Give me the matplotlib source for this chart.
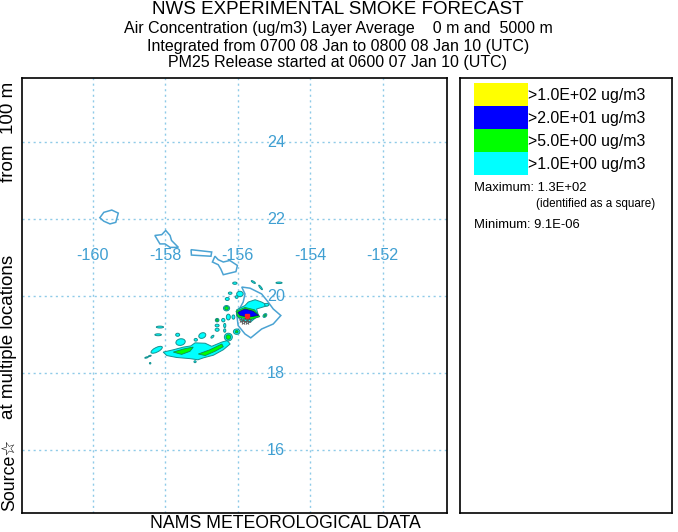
import matplotlib
matplotlib.use('Agg')
import matplotlib.pyplot as plt
from matplotlib.patches import Ellipse, Polygon, Rectangle

plt.rcParams['font.family'] = ['Liberation Sans', 'DejaVu Sans']

W, H = 678, 532

title_lines = ['NWS EXPERIMENTAL SMOKE FORECAST',
               'Air Concentration (ug/m3) Layer Average    0 m and  5000 m',
               'Integrated from 0700 08 Jan to 0800 08 Jan 10 (UTC)',
               'PM25 Release started at 0600 07 Jan 10 (UTC)']

lon_ticks = [-160, -158, -156, -154, -152]
lat_ticks = [16, 18, 20, 22, 24]

legend_colors = ['#ffff00', '#0000ff', '#00ff00', '#00ffff']
legend_labels = ['>1.0E+02 ug/m3', '>2.0E+01 ug/m3', '>5.0E+00 ug/m3', '>1.0E+00 ug/m3']

# island outlines, lon / lat
kauai = [(-159.81, 22.03), (-159.70, 22.17), (-159.48, 22.23), (-159.30, 22.15),
         (-159.37, 21.91), (-159.53, 21.87), (-159.70, 21.94)]
oahu = [(-158.29, 21.57), (-158.10, 21.59), (-157.99, 21.70), (-157.87, 21.57), (-157.83, 21.44),
        (-157.64, 21.26), (-157.87, 21.26), (-158.01, 21.35), (-158.15, 21.35)]
molokai = [(-157.29, 21.20), (-156.72, 21.14), (-156.74, 21.03), (-157.28, 21.06)]
maui = [(-156.63, 21.03), (-156.54, 20.94), (-156.40, 20.88), (-156.22, 20.92), (-156.01, 20.79),
        (-156.05, 20.63), (-156.40, 20.55), (-156.47, 20.70), (-156.54, 20.81), (-156.70, 20.88)]
big_island = [(-155.89, 20.23), (-155.66, 20.20), (-155.34, 20.05), (-155.16, 19.84), (-155.02, 19.66),
              (-154.81, 19.49), (-155.02, 19.27), (-155.34, 19.14), (-155.64, 18.91), (-155.80, 19.01),
              (-155.99, 19.23), (-156.03, 19.53), (-155.85, 19.84), (-155.80, 20.05)]
islands = [kauai, oahu, molokai, maui, big_island]

# plume, lon / lat polygons
plume_main = [(-158.06, 18.54), (-157.78, 18.60), (-157.50, 18.67), (-157.30, 18.70), (-157.18, 18.78),
              (-156.90, 18.77), (-156.72, 18.69), (-156.44, 18.80), (-156.29, 18.84), (-156.21, 18.75),
              (-156.40, 18.60), (-156.67, 18.46), (-156.95, 18.39), (-157.10, 18.34), (-157.32, 18.37),
              (-157.69, 18.40), (-157.96, 18.45)]
plume_core = [(-156.03, 19.64), (-155.80, 19.75), (-155.71, 19.84), (-155.52, 19.90), (-155.34, 19.84),
              (-155.16, 19.75), (-155.34, 19.70), (-155.48, 19.66), (-155.43, 19.49), (-155.66, 19.31),
              (-155.89, 19.36), (-156.03, 19.49)]
green_core = [(-156.05, 19.60), (-155.80, 19.70), (-155.54, 19.64), (-155.39, 19.46),
              (-155.66, 19.38), (-155.99, 19.45)]
blue_core = [(-156.00, 19.57), (-155.80, 19.66), (-155.57, 19.60), (-155.43, 19.49),
             (-155.71, 19.45), (-155.94, 19.49)]
green_streaks = [[(-157.78, 18.54), (-157.50, 18.62), (-157.23, 18.67), (-157.32, 18.56), (-157.55, 18.48)],
                 [(-157.09, 18.49), (-156.77, 18.60), (-156.44, 18.75), (-156.40, 18.68),
                  (-156.63, 18.56), (-156.90, 18.45)]]

# plume blobs: lon, lat, width, height, angle
cyan_blobs = [(-158.24, 18.60, 0.34, 0.12, 25), (-157.58, 18.80, 0.26, 0.17, 10), (-158.15, 19.19, 0.20, 0.05, 0),
              (-158.20, 18.99, 0.18, 0.05, 0), (-157.66, 18.99, 0.11, 0.08, 0), (-156.98, 18.97, 0.20, 0.14, 20),
              (-157.16, 18.86, 0.09, 0.07, 0), (-156.70, 18.94, 0.10, 0.05, 40), (-156.26, 18.93, 0.22, 0.20, 0),
              (-156.03, 19.07, 0.18, 0.14, 0), (-156.57, 19.12, 0.11, 0.08, 0), (-156.57, 19.37, 0.10, 0.09, 0),
              (-156.40, 19.37, 0.09, 0.09, 0), (-156.26, 19.45, 0.11, 0.15, 0), (-156.12, 19.45, 0.08, 0.11, 0),
              (-156.57, 19.23, 0.11, 0.07, 0), (-156.36, 19.23, 0.06, 0.11, 0), (-156.36, 19.10, 0.06, 0.09, 0),
              (-156.31, 19.68, 0.17, 0.14, 0), (-156.29, 19.92, 0.11, 0.08, 0), (-156.21, 20.07, 0.10, 0.06, 0),
              (-156.03, 19.97, 0.08, 0.07, 0), (-155.94, 20.05, 0.18, 0.14, 0), (-156.08, 20.33, 0.12, 0.06, 0),
              (-155.57, 20.36, 0.13, 0.04, -30), (-155.37, 20.22, 0.15, 0.04, -50), (-154.86, 20.34, 0.17, 0.04, 0),
              (-158.52, 18.40, 0.10, 0.03, 15), (-158.43, 18.44, 0.08, 0.03, 15), (-155.25, 19.49, 0.12, 0.08, 40),
              (-155.20, 19.77, 0.12, 0.07, 0), (-157.18, 18.29, 0.06, 0.05, 0), (-158.42, 18.25, 0.04, 0.04, 0)]
green_blobs = [(-156.26, 18.93, 0.13, 0.12, 0), (-156.31, 19.68, 0.10, 0.09, 0), (-156.57, 19.37, 0.06, 0.06, 0),
               (-156.03, 19.07, 0.08, 0.06, 0), (-155.25, 19.49, 0.06, 0.04, 40)]

# maximum square and source locations
max_lon, max_lat = [-155.755], [19.49]
source_lon = [-155.90, -155.80, -155.70, -155.85, -155.75]
source_lat = [19.38, 19.38, 19.38, 19.31, 19.31]

teal = '#17908f'
map_blue = '#4ba3d3'
grid_blue = '#8fcbe8'

fig = plt.figure(figsize=(W / 100, H / 100), dpi=100)

# map panel
ax = fig.add_axes([22 / W, 1 - 513 / H, 425 / W, 435 / H])
ax.set_xlim(-161.96, -150.22)
ax.set_ylim(14.36, 25.66)
ax.set_xticks([])
ax.set_yticks([])
for s in ax.spines.values():
    s.set_linewidth(1.2)
    s.set_color('black')

for lon in lon_ticks:
    ax.axvline(lon, color=grid_blue, lw=1, ls=(0, (1.5, 2.5)), zorder=1)
    ax.text(lon, 21.06, str(lon), color='#3f9fd2', fontsize=11.6, ha='center', va='center', zorder=5)
for lat in lat_ticks:
    ax.axhline(lat, color=grid_blue, lw=1, ls=(0, (1.5, 2.5)), zorder=1)
    ax.text(-154.94, lat - 0.02, str(lat), color='#3f9fd2', fontsize=11.6, ha='center', va='center', zorder=5)

for pts in islands:
    ax.add_patch(Polygon(pts, closed=True, fill=False, edgecolor=map_blue, lw=1.1, zorder=2))

for pts in [plume_main, plume_core]:
    ax.add_patch(Polygon(pts, closed=True, facecolor='#00ffff', edgecolor=teal, lw=0.7, zorder=3))
for lon, lat, w, h, ang in cyan_blobs:
    ax.add_patch(Ellipse((lon, lat), w, h, angle=ang, facecolor='#00ffff', edgecolor=teal, lw=0.7, zorder=3))
for pts in green_streaks + [green_core]:
    ax.add_patch(Polygon(pts, closed=True, facecolor='#00ff00', edgecolor='#118a55', lw=0.6, zorder=4))
for lon, lat, w, h, ang in green_blobs:
    ax.add_patch(Ellipse((lon, lat), w, h, angle=ang, facecolor='#00ff00', edgecolor='#118a55', lw=0.6, zorder=4))
ax.add_patch(Polygon(blue_core, closed=True, facecolor='#0000ff', edgecolor='#10108a', lw=0.6, zorder=4))

ax.plot(max_lon, max_lat, marker='s', ms=2.5, color='#ff2020', zorder=6)
ax.plot(source_lon, source_lat, marker='*', ms=3.5, ls='none', mfc='none', mec='#555555', mew=0.5, zorder=6)

# legend panel
lax = fig.add_axes([460 / W, 1 - 513 / H, 212 / W, 435 / H])
lax.set_xlim(460, 672)
lax.set_ylim(513, 78)
lax.set_xticks([])
lax.set_yticks([])
for s in lax.spines.values():
    s.set_linewidth(1.2)
    s.set_color('black')
for i, (c, lab) in enumerate(zip(legend_colors, legend_labels)):
    lax.add_patch(Rectangle((474, 83 + i * 23), 54, 23, facecolor=c, edgecolor='none'))
    lax.text(528, 95.5 + i * 23, lab, fontsize=11.4, ha='left', va='center')
lax.text(474, 188, 'Maximum: 1.3E+02', fontsize=9.4, ha='left', va='center')
lax.text(536, 204.5, '(identified as a square)', fontsize=8.35, ha='left', va='center')
lax.text(474, 225.5, 'Minimum: 9.1E-06', fontsize=9.4, ha='left', va='center')

# titles
fig.text(338 / W, 1 - 9 / H, title_lines[0], fontsize=13.5, ha='center', va='center')
fig.text(338 / W, 1 - 29 / H, title_lines[1], fontsize=11.5, ha='center', va='center')
fig.text(338 / W, 1 - 46 / H, title_lines[2], fontsize=11.5, ha='center', va='center')
fig.text(338 / W, 1 - 63 / H, title_lines[3], fontsize=11.5, ha='center', va='center')

# side and bottom text
fig.text(9 / W, 1 - 132 / H, 'from  100 m', fontsize=13.5, rotation=90, ha='center', va='center')
fig.text(9 / W, 1 - 337 / H, 'at multiple locations', fontsize=13.5, rotation=90, ha='center', va='center')
fig.text(9 / W, 1 - 475 / H, 'Source\u2606', fontsize=12.8, rotation=90, ha='center', va='center')
fig.text(285 / W, 1 - 524 / H, 'NAMS METEOROLOGICAL DATA', fontsize=12.7, ha='center', va='center')

fig.savefig('out.png', dpi=100)
